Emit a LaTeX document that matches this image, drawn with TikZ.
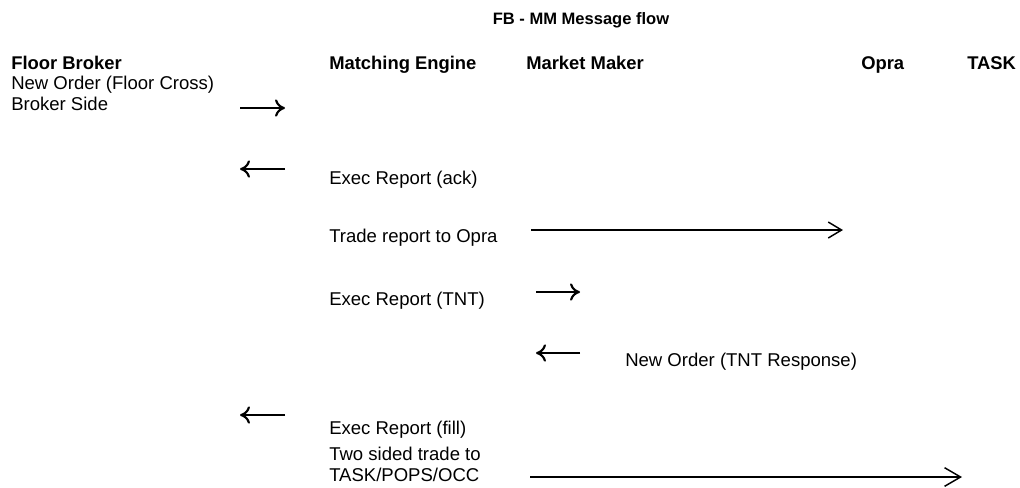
\documentclass[tikz,border=0pt]{standalone}
\usepackage{fontspec}
\setmainfont{Liberation Sans}
\usetikzlibrary{arrows.meta}
\begin{document}
\begin{tikzpicture}[x=0.75pt,y=-0.75pt,
  lbl/.style={anchor=base west,inner sep=0pt,font=\fontsize{13.9}{16}\selectfont},
  hdr/.style={anchor=base west,inner sep=0pt,font=\fontsize{13.8}{16}\selectfont\bfseries},
  ttl/.style={anchor=base,inner sep=0pt,font=\fontsize{12.4}{15}\selectfont\bfseries},
  shortarr/.style={line width=1.6pt,-{To[length=7.5pt,width=13pt]}},
  longarr/.style={line width=1.1pt,-{Straight Barb[length=10pt,width=12pt,line width=1.1pt]}},
  longarrb/.style={line width=1.1pt,-{Straight Barb[length=12pt,width=14pt,line width=1.1pt]}}]
\useasboundingbox (0,0) rectangle (1020,487);
\node[ttl] (title) at (581,24) {FB - MM Message flow};
\node[hdr] (fb) at (11,69) {Floor Broker};
\node[hdr] (me) at (329,69) {Matching Engine};
\node[hdr] (mm) at (526,69) {Market Maker};
\node[hdr] (opra) at (861,69) {Opra};
\node[hdr] (task) at (967,69) {TASK};
\node[lbl] (neworder) at (11,89) {New Order (Floor Cross)};
\node[lbl] (brokerside) at (11,110) {Broker Side};
\node[lbl] (ack) at (329,184) {Exec Report (ack)};
\node[lbl] (trade) at (329,242) {Trade report to Opra};
\node[lbl] (tnt) at (329,305) {Exec Report (TNT)};
\node[lbl] (tntresp) at (625,366) {New Order (TNT Response)};
\node[lbl] (fill) at (329,434) {Exec Report (fill)};
\node[lbl] (twosided) at (329,460) {Two sided trade to};
\node[lbl] (taskpops) at (329,481) {TASK/POPS/OCC};
\coordinate (a1s) at (240,108); \coordinate (a1e) at (285,108);
\coordinate (a2s) at (285,169); \coordinate (a2e) at (240,169);
\coordinate (a3s) at (531,230); \coordinate (a3e) at (843,230);
\coordinate (a4s) at (536,292); \coordinate (a4e) at (580,292);
\coordinate (a5s) at (580,353); \coordinate (a5e) at (536,353);
\coordinate (a6s) at (285,415); \coordinate (a6e) at (240,415);
\coordinate (a7s) at (530,477); \coordinate (a7e) at (962,477);
\draw[shortarr] (a1s) -- (a1e);
\draw[shortarr] (a2s) -- (a2e);
\draw[longarr] (a3s) -- (a3e);
\draw[shortarr] (a4s) -- (a4e);
\draw[shortarr] (a5s) -- (a5e);
\draw[shortarr] (a6s) -- (a6e);
\draw[longarrb] (a7s) -- (a7e);
\end{tikzpicture}
\end{document}
